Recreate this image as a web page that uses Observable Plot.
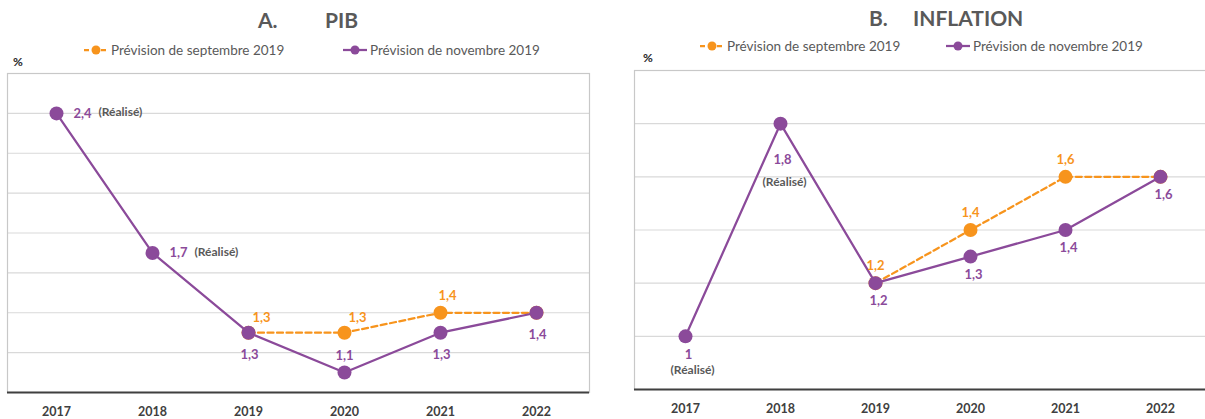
<!DOCTYPE html>
<html>
<head>
<meta charset="utf-8">
<script src="https://cdn.jsdelivr.net/npm/d3@7"></script>
<script src="https://cdn.jsdelivr.net/npm/@observablehq/plot@0.6"></script>
<style>
  html, body { margin: 0; padding: 0; background: #fff; }
  body { width: 1205px; height: 419px; overflow: hidden; position: relative; font-family: Lato, "Open Sans", sans-serif; }
  .abs { position: absolute; }
  .title { font-weight: bold; font-size: 21px; color: #595959; white-space: pre; transform: translateY(-50%); }
  .pct { font-weight: bold; font-size: 12px; color: #262626; transform: translateY(-50%); }
  .leg { font-size: 13.5px; color: #595959; white-space: nowrap; display: flex; align-items: center; transform: translateY(-50%); }
  .leg svg { margin-right: 3px; }
</style>
</head>
<body>
<script>
// ---------- data ----------
const years = ["2017", "2018", "2019", "2020", "2021", "2022"];

const pibSept = [null, null, 1.3, 1.3, 1.4, 1.4];
const pibNov  = [2.4, 1.7, 1.3, 1.1, 1.3, 1.4];
const pibRealise = [true, true, false, false, false, false];
const pibNovLabelPos  = ["right", "right", "below", "above", "below", "below"];
const pibSeptLabelPos = [null, null, "aboveRight", "aboveRight", "above", null];
const pibDomain = [1.0, 2.6];
const pibGrid = [1.2, 1.4, 1.6, 1.8, 2.0, 2.2, 2.4];

const infSept = [null, null, 1.2, 1.4, 1.6, 1.6];
const infNov  = [1.0, 1.8, 1.2, 1.3, 1.4, 1.6];
const infRealise = [true, true, false, false, false, false];
const infNovLabelPos  = ["below", "belowFar", "below", "below", "below", "below"];
const infSeptLabelPos = [null, null, "above", "above", "above", null];
const infDomain = [0.8, 2.0];
const infGrid = [1.0, 1.2, 1.4, 1.6, 1.8];

const titleLetters = ["A.", "B."];
const titleNames = ["PIB", "INFLATION"];
const seriesNames = ["Prévision de septembre 2019", "Prévision de novembre 2019"];
const realiseText = "(Réalisé)";
const unitText = "%";

// ---------- styles ----------
const ORANGE = "#F7941D";
const PURPLE = "#8B4A9A";
const GRAY = "#595959";
const fmt = v => String(v).replace(".", ",");

function rowsOf(sept, nov, realise, novPos, septPos) {
  return years.map((year, i) => ({
    year, sept: sept[i], nov: nov[i], realise: realise[i],
    novPos: novPos[i], septPos: septPos[i]
  }));
}

const offsetsA = {
  nov: { right: {dx: 17, dy: 0, anchor: "start"}, below: {dx: 1, dy: 22}, above: {dx: 0, dy: -17} },
  sept: { aboveRight: {dx: 13, dy: -15}, above: {dx: 7, dy: -17} },
  realise: { right: {dx: 42, dy: -1, anchor: "start"} }
};
const offsetsB = {
  nov: { below: {dx: 3, dy: 18}, belowFar: {dx: 2, dy: 36} },
  sept: { above: {dx: 0, dy: -17} },
  realise: { below: {dx: 7, dy: 34}, belowFar: {dx: 4, dy: 58} }
};

function labelMarks(rows, key, posKey, color, offsets) {
  return Object.entries(offsets).map(([pos, o]) =>
    Plot.text(rows, {
      filter: d => d[posKey] === pos && d[key] != null,
      x: "year", y: key, text: d => fmt(d[key]),
      dx: o.dx, dy: o.dy, textAnchor: o.anchor || "middle",
      fill: color, fontWeight: "bold", fontSize: 13
    })
  );
}

function realiseMarks(rows, offsets) {
  return Object.entries(offsets).map(([pos, o]) =>
    Plot.text(rows, {
      filter: d => d.realise && d.novPos === pos,
      x: "year", y: "nov", text: () => realiseText,
      dx: o.dx, dy: o.dy, textAnchor: o.anchor || "middle",
      fill: GRAY, fontWeight: "bold", fontSize: 12
    })
  );
}

function chart({rows, domain, grid, width, marginLeft, marginRight, xRange, offsets}) {
  return Plot.plot({
    width, height: 360,
    marginTop: 14, marginBottom: 27, marginLeft, marginRight,
    style: "max-width:none; background:transparent; overflow:visible; font-family: Lato, 'Open Sans', sans-serif; font-size:12px; color:#404040;",
    x: {type: "point", domain: years, range: xRange, padding: 0, axis: null},
    y: {domain, axis: null},
    marks: [
      Plot.ruleY(grid, {stroke: "#d9d9d9", strokeWidth: 1.2}),
      Plot.frame({stroke: "#c8c8c8", strokeWidth: 1.2}),
      Plot.ruleY([domain[0]], {stroke: "#404040", strokeWidth: 2}),
      Plot.axisX({tickSize: 0, tickPadding: 15, fontWeight: "bold", fontSize: 12.5, fill: "#404040", label: null}),
      Plot.line(rows, {filter: d => d.sept != null, x: "year", y: "sept", stroke: ORANGE, strokeWidth: 2.25, strokeDasharray: "6,3.5"}),
      Plot.dot(rows, {filter: d => d.sept != null, x: "year", y: "sept", r: 7, fill: ORANGE}),
      Plot.line(rows, {x: "year", y: "nov", stroke: PURPLE, strokeWidth: 2.25}),
      Plot.dot(rows, {x: "year", y: "nov", r: 7, fill: PURPLE}),
      ...labelMarks(rows, "sept", "septPos", ORANGE, offsets.sept),
      ...labelMarks(rows, "nov", "novPos", PURPLE, offsets.nov),
      ...realiseMarks(rows, offsets.realise)
    ]
  });
}

function place(el, left, top) {
  el.classList.add("abs");
  el.style.left = left + "px";
  el.style.top = top + "px";
  document.body.appendChild(el);
  return el;
}
function div(cls, text) {
  const d = document.createElement("div");
  d.className = cls;
  if (text != null) d.textContent = text;
  return d;
}
function legendItem(name, color, dashed) {
  const d = div("leg");
  const ns = "http://www.w3.org/2000/svg";
  const s = document.createElementNS(ns, "svg");
  s.setAttribute("width", 24); s.setAttribute("height", 12);
  const l = document.createElementNS(ns, "line");
  l.setAttribute("x1", 0); l.setAttribute("x2", 24); l.setAttribute("y1", 6); l.setAttribute("y2", 6);
  l.setAttribute("stroke", color); l.setAttribute("stroke-width", 2.25);
  if (dashed) l.setAttribute("stroke-dasharray", "5,3.5");
  const c = document.createElementNS(ns, "circle");
  c.setAttribute("cx", 12); c.setAttribute("cy", 6); c.setAttribute("r", 4.5); c.setAttribute("fill", color);
  s.appendChild(l); s.appendChild(c);
  d.appendChild(s);
  d.appendChild(document.createTextNode(name));
  return d;
}

// Panel A
const pibRows = rowsOf(pibSept, pibNov, pibRealise, pibNovLabelPos, pibSeptLabelPos);
place(chart({rows: pibRows, domain: pibDomain, grid: pibGrid, width: 600, marginLeft: 7, marginRight: 11, xRange: [55, 537], offsets: offsetsA}), 0, 59);
place(div("title", titleLetters[0]), 258, 19);
place(div("title", titleNames[0]), 325, 19);
place(legendItem(seriesNames[0], ORANGE, true), 84, 50);
place(legendItem(seriesNames[1], PURPLE, false), 343, 50);
place(div("pct", unitText), 13, 61);

// Panel B
const infRows = rowsOf(infSept, infNov, infRealise, infNovLabelPos, infSeptLabelPos);
place(chart({rows: infRows, domain: infDomain, grid: infGrid, width: 610, marginLeft: 29, marginRight: 0, xRange: [78, 557], offsets: offsetsB}), 605, 56);
place(div("title", titleLetters[1]), 869, 17);
place(div("title", titleNames[1]), 913, 17);
place(legendItem(seriesNames[0], ORANGE, true), 700, 46);
place(legendItem(seriesNames[1], PURPLE, false), 946, 46);
place(div("pct", unitText), 643, 57);
</script>
</body>
</html>
